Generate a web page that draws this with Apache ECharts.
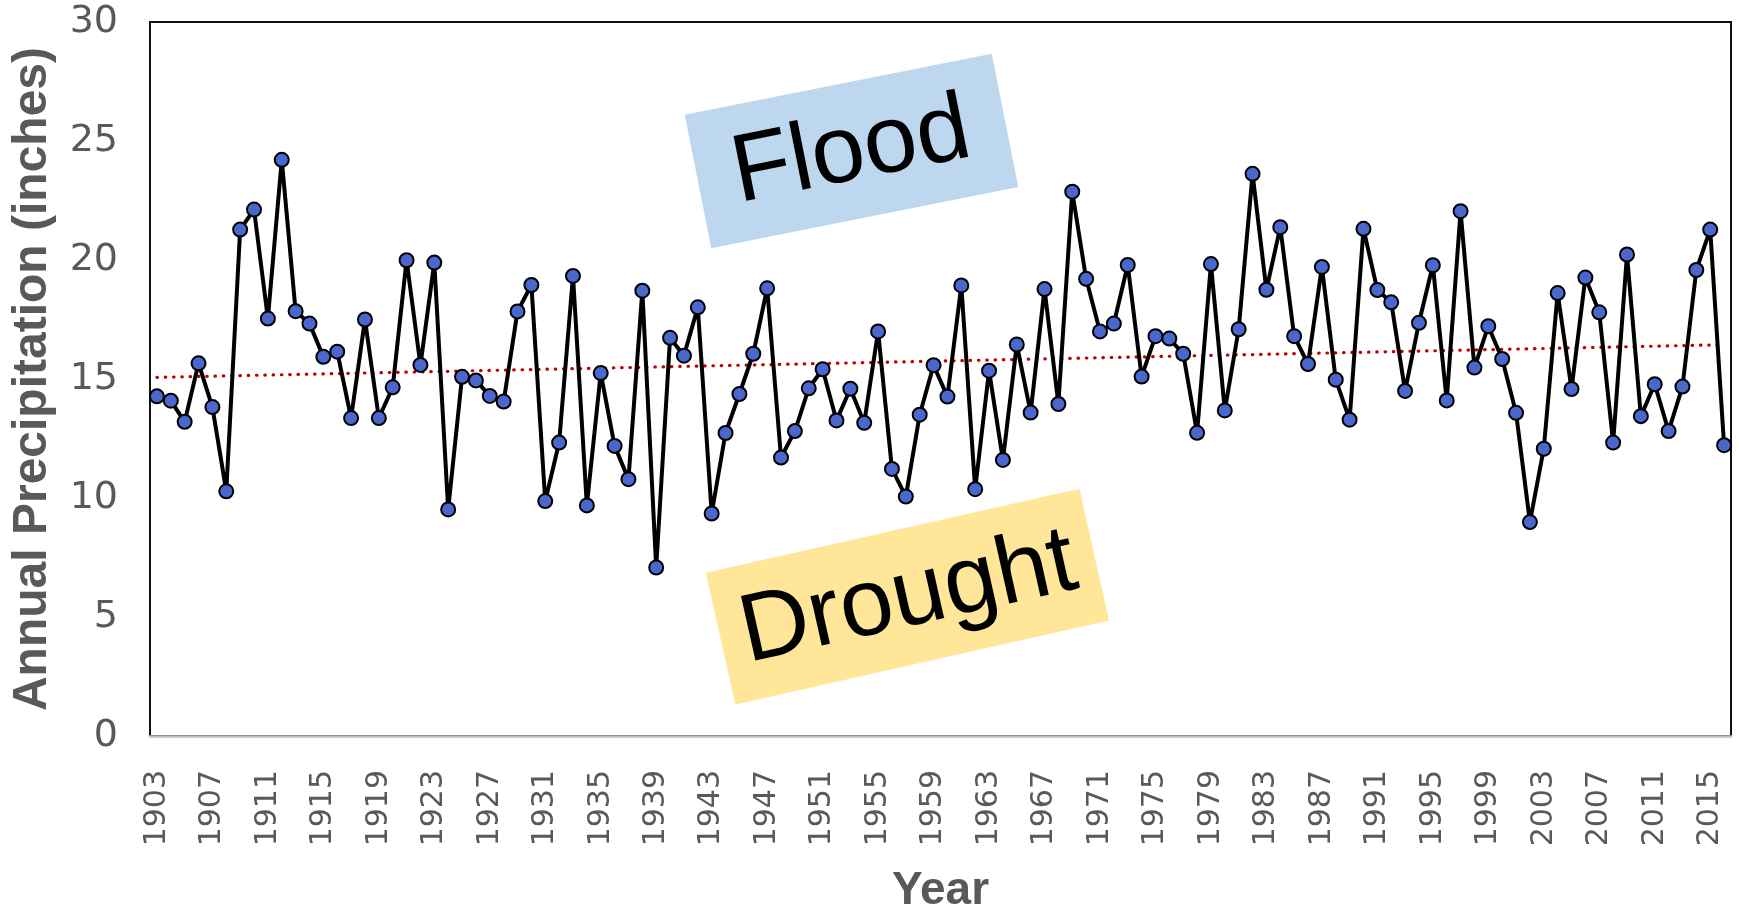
<!DOCTYPE html>
<html>
<head>
<meta charset="utf-8">
<script src="https://cdn.jsdelivr.net/npm/echarts@6/dist/echarts.min.js"></script>
<style>
  html, body { margin: 0; padding: 0; background: #fff; }
  #chart { width: 1739px; height: 908px; }
</style>
</head>
<body>
<div id="chart"></div>
<script>
const years = [
  '1903', '1904', '1905', '1906', '1907', '1908', '1909', '1910', '1911', '1912',
  '1913', '1914', '1915', '1916', '1917', '1918', '1919', '1920', '1921', '1922',
  '1923', '1924', '1925', '1926', '1927', '1928', '1929', '1930', '1931', '1932',
  '1933', '1934', '1935', '1936', '1937', '1938', '1939', '1940', '1941', '1942',
  '1943', '1944', '1945', '1946', '1947', '1948', '1949', '1950', '1951', '1952',
  '1953', '1954', '1955', '1956', '1957', '1958', '1959', '1960', '1961', '1962',
  '1963', '1964', '1965', '1966', '1967', '1968', '1969', '1970', '1971', '1972',
  '1973', '1974', '1975', '1976', '1977', '1978', '1979', '1980', '1981', '1982',
  '1983', '1984', '1985', '1986', '1987', '1988', '1989', '1990', '1991', '1992',
  '1993', '1994', '1995', '1996', '1997', '1998', '1999', '2000', '2001', '2002',
  '2003', '2004', '2005', '2006', '2007', '2008', '2009', '2010', '2011', '2012',
  '2013', '2014', '2015', '2016',
];

// annual precipitation, inches
const precip = [
  14.27, 14.09, 13.20, 15.66, 13.82, 10.28, 21.28, 22.12, 17.54, 24.21,
  17.85, 17.33, 15.93, 16.15, 13.36, 17.50, 13.36, 14.65, 19.99, 15.59,
  19.89, 9.52, 15.09, 14.94, 14.29, 14.05, 17.84, 18.95, 9.87, 12.33,
  19.33, 9.69, 15.25, 12.19, 10.79, 18.71, 7.08, 16.73, 15.98, 18.01,
  9.35, 12.73, 14.37, 16.06, 18.81, 11.70, 12.81, 14.61, 15.41, 13.26,
  14.59, 13.16, 17.00, 11.22, 10.06, 13.50, 15.58, 14.26, 18.93, 10.37,
  15.35, 11.60, 16.45, 13.59, 18.78, 13.95, 22.87, 19.21, 17.00, 17.33,
  19.79, 15.10, 16.80, 16.70, 16.06, 12.74, 19.83, 13.68, 17.09, 23.62,
  18.75, 21.38, 16.80, 15.63, 19.71, 14.97, 13.29, 21.31, 18.74, 18.22,
  14.50, 17.36, 19.78, 14.10, 22.05, 15.48, 17.22, 15.84, 13.58, 8.99,
  12.07, 18.61, 14.58, 19.26, 17.80, 12.33, 20.23, 13.44, 14.78, 12.81,
  14.68, 19.58, 21.28, 12.22,
];

// linear trend line endpoints
const trendStart = 15.07;
const trendEnd = 16.44;

const chart = echarts.init(document.getElementById('chart'));

chart.setOption({
  animation: false,
  grid: {
    left: 150,
    right: 8,
    top: 22,
    bottom: 172,
    outerBoundsMode: 'none',
    containLabel: false,
    show: true,
    borderColor: '#111',
    borderWidth: 2,
  },
  xAxis: {
    type: 'category',
    data: years,
    boundaryGap: true,
    name: 'Year',
    nameLocation: 'middle',
    nameGap: 132,
    nameTextStyle: {
      fontFamily: 'Liberation Sans',
      fontWeight: 'bold',
      fontSize: 46,
      color: '#595959',
    },
    axisLine: { show: true, lineStyle: { color: '#bfbfbf', width: 2.5 } },
    axisTick: { show: false },
    axisLabel: {
      interval: 3,
      rotate: 90,
      margin: 34,
      fontFamily: 'DejaVu Sans',
      fontSize: 30,
      color: '#595959',
    },
    splitLine: { show: false },
  },
  yAxis: {
    type: 'value',
    min: 0,
    max: 30,
    interval: 5,
    name: 'Annual Precipitation (inches)',
    nameLocation: 'middle',
    nameGap: 93,
    nameTextStyle: {
      fontFamily: 'Liberation Sans',
      fontWeight: 'bold',
      fontSize: 48,
      color: '#595959',
    },
    axisLine: { show: false },
    axisTick: { show: false },
    axisLabel: {
      margin: 32,
      fontFamily: 'DejaVu Sans',
      fontSize: 38,
      color: '#595959',
    },
    splitLine: { show: false },
  },
  series: [
    {
      name: 'Trend',
      type: 'line',
      z: 1,
      symbol: 'none',
      data: [[0, trendStart], [years.length - 1, trendEnd]],
      lineStyle: { color: '#c00000', width: 3.2, type: [0.5, 7.8], cap: 'round' },
      silent: true,
    },
    {
      name: 'Precipitation',
      type: 'line',
      z: 3,
      data: precip,
      symbol: 'circle',
      symbolSize: 14,
      showSymbol: true,
      showAllSymbol: true,
      lineStyle: { color: '#000', width: 4 },
      itemStyle: { color: '#4a67cd', borderColor: '#000', borderWidth: 2 },
    },
  ],
  graphic: [
    {
      type: 'group',
      x: 851,
      y: 151,
      rotation: 11.25 * Math.PI / 180,
      z: 10,
      children: [
        {
          type: 'rect',
          shape: { x: -156, y: -68, width: 313, height: 136 },
          style: { fill: '#bdd7ee' },
        },
        {
          type: 'text',
          x: 0,
          y: 2,
          style: {
            text: 'Flood',
            font: '96px "Liberation Sans"',
            fill: '#000',
            align: 'center',
            verticalAlign: 'middle',
          },
        },
      ],
    },
    {
      type: 'group',
      x: 908,
      y: 597,
      rotation: 12.66 * Math.PI / 180,
      z: 10,
      children: [
        {
          type: 'rect',
          shape: { x: -192, y: -68, width: 383, height: 135 },
          style: { fill: '#ffe699' },
        },
        {
          type: 'text',
          x: 0,
          y: 2,
          style: {
            text: 'Drought',
            font: '96px "Liberation Sans"',
            fill: '#000',
            align: 'center',
            verticalAlign: 'middle',
          },
        },
      ],
    },
  ],
});
</script>
</body>
</html>
